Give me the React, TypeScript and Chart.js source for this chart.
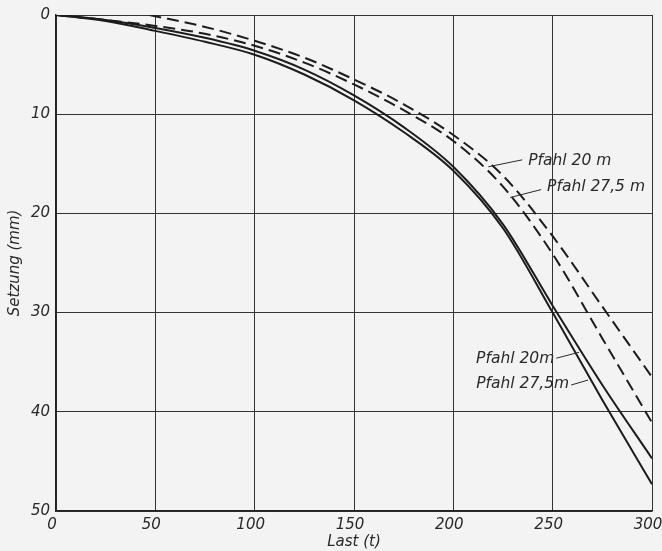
import { useEffect, useRef } from "react";
import { Chart, registerables } from "chart.js";

Chart.register(...registerables);

// Load (t) sample positions
const loadT = [0, 25, 50, 75, 100, 125, 150, 175, 200, 225, 250, 275, 300];
// Solid curves, settlement (mm)
const solid20 = [0, 0.5, 1.3, 2.3, 3.6, 5.5, 8.1, 11.3, 15.3, 21.1, 29.3, 37.3, 44.7];
const solid275 = [0, 0.6, 1.6, 2.7, 4.0, 6.0, 8.6, 11.8, 15.7, 21.5, 30.0, 38.8, 47.3];
// Dashed curves
const dashed275 = [0, 0.5, 1.1, 1.9, 3.1, 4.8, 7.0, 9.6, 12.7, 17.3, 24.1, 32.6, 41.1];
const loadDashed20 = [47, 75, 100, 125, 150, 175, 200, 225, 250, 275, 300];
const dashed20 = [0, 1.2, 2.6, 4.3, 6.5, 9.0, 12.1, 16.2, 22.3, 29.4, 36.5];

const xTicks = [0, 50, 100, 150, 200, 250, 300];
const yTicks = [0, 10, 20, 30, 40, 50];

// Annotations (data units)
const noteTexts = ["Pfahl 20 m", "Pfahl 27,5 m", "Pfahl 20m", "Pfahl 27,5m"];
const noteAlign = ["left", "left", "right", "right"];
const noteTextX = [237.7, 247.2, 250.8, 258.3];
const noteTextY = [14.7, 17.3, 34.7, 37.2];
const noteFromX = [234.7, 244.2, 251.8, 259.3];
const noteFromY = [14.6, 17.6, 34.6, 37.3];
const noteToX = [217.6, 228.6, 263.3, 267.8];
const noteToY = [15.3, 18.4, 34.0, 36.8];

const FONT_FAMILY = "'DejaVu Sans', sans-serif";
const INK = "#2a2a2a";

const pts = (xs: number[], ys: number[]) => xs.map((x, i) => ({ x, y: ys[i] }));

const notesPlugin = {
  id: "notes",
  afterDatasetsDraw(chart: any) {
    const { ctx, scales } = chart;
    const xs = scales.x;
    const ys = scales.y;
    ctx.save();
    ctx.font = `italic 15.5px ${FONT_FAMILY}`;
    ctx.fillStyle = INK;
    ctx.strokeStyle = INK;
    ctx.lineWidth = 1;
    ctx.textBaseline = "middle";
    noteTexts.forEach((t, i) => {
      ctx.textAlign = noteAlign[i] as CanvasTextAlign;
      ctx.fillText(t, xs.getPixelForValue(noteTextX[i]), ys.getPixelForValue(noteTextY[i]));
      ctx.beginPath();
      ctx.moveTo(xs.getPixelForValue(noteFromX[i]), ys.getPixelForValue(noteFromY[i]));
      ctx.lineTo(xs.getPixelForValue(noteToX[i]), ys.getPixelForValue(noteToY[i]));
      ctx.stroke();
    });
    ctx.restore();
  },
};

export default function App() {
  const ref = useRef<HTMLCanvasElement>(null);
  useEffect(() => {
    const font = { family: FONT_FAMILY, size: 15, style: "italic" as const };
    const lineBase = {
      borderColor: "#1c1c1c",
      borderWidth: 2,
      pointRadius: 0,
      cubicInterpolationMode: "monotone" as const,
      fill: false,
    };
    const chart = new Chart(ref.current!, {
      type: "line",
      data: {
        datasets: [
          { ...lineBase, label: "Pfahl 20 m (solid)", data: pts(loadT, solid20) },
          { ...lineBase, label: "Pfahl 27,5 m (solid)", data: pts(loadT, solid275) },
          { ...lineBase, label: "Pfahl 27,5 m (dashed)", data: pts(loadT, dashed275), borderDash: [12, 6] },
          { ...lineBase, label: "Pfahl 20 m (dashed)", data: pts(loadDashed20, dashed20), borderDash: [12, 6] },
        ],
      },
      options: {
        responsive: false,
        devicePixelRatio: 1,
        animation: false,
        layout: { padding: { top: 15, right: 10, left: 0, bottom: 0 } },
        plugins: { legend: { display: false }, tooltip: { enabled: false } },
        scales: {
          x: {
            type: "linear",
            min: 0,
            max: 300,
            afterBuildTicks: (s: any) => { s.ticks = xTicks.map((v) => ({ value: v })); },
            ticks: { font, color: INK, padding: 5, labelOffset: -4, maxRotation: 0 },
            grid: { color: "#333", lineWidth: 1, drawTicks: false },
            border: { color: "#222", width: 1.5 },
            title: { display: true, text: "Last (t)", font, color: INK, padding: { top: 0, bottom: 0 } },
            afterFit: (s: any) => { s.height = 40; s.paddingLeft = 0; s.paddingRight = 0; },
          },
          y: {
            type: "linear",
            reverse: true,
            min: 0,
            max: 50,
            afterBuildTicks: (s: any) => { s.ticks = yTicks.map((v) => ({ value: v })); },
            ticks: { font, color: INK, padding: 6 },
            grid: { color: "#333", lineWidth: 1, drawTicks: false },
            border: { color: "#222", width: 1.5 },
            title: { display: true, text: "Setzung (mm)", font, color: INK, padding: { top: 6, bottom: 0 } },
            afterFit: (s: any) => { s.width = 56; s.paddingTop = 0; s.paddingBottom = 0; },
          },
        },
      },
      plugins: [notesPlugin],
    });
    return () => chart.destroy();
  }, []);
  return (
    <div style={{ position: "fixed", left: 0, top: 0, width: 662, height: 551, background: "#f3f3f3" }}>
      <canvas ref={ref} width={662} height={551} style={{ display: "block" }} />
    </div>
  );
}
